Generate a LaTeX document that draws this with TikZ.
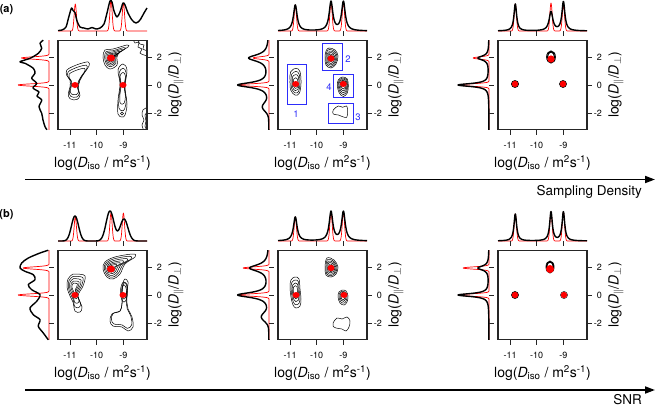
\documentclass[tikz,border=0pt]{standalone}
\usepackage{fontspec}
\setmainfont{TeX Gyre Heros}
\usetikzlibrary{arrows.meta}
\definecolor{bblue}{RGB}{45,45,250}
\tikzset{
 frm/.style={line width=1.3pt, draw=black!85},
 tck/.style={line width=0.8pt, black!85},
 tlab/.style={font=\fontsize{9}{10}\selectfont, inner sep=0pt},
 axlab/.style={font=\fontsize{14}{16}\selectfont, inner sep=0pt},
 cont/.style={line width=0.5pt},
 mblack/.style={line width=1.4pt, line join=round},
 mred/.style={red, line width=0.7pt, line join=round},
 rdot/.style={fill=red, draw=none},
 bbox/.style={draw=bblue, line width=0.8pt},
 blab/.style={text=bblue, font=\fontsize{9.5}{10}\selectfont, inner sep=0pt},
 bigarrow/.style={line width=1.8pt, -{Triangle[length=10pt,width=7pt]}},
 declare function={gs(\u,\c,\s)=exp(-((\u-\c)/\s)*((\u-\c)/\s));
                   lz(\u,\c,\w)=1/(1+((\u-\c)/\w)*((\u-\c)/\w));}
}
\newcommand\myframe[3]{%
\begin{scope}[shift={(#1,#2)}]
 \draw[frm] (-12,-44.8) rectangle (77,44.8);
 \foreach \tp/\lb [count=\i] in {0/-11,26.7/-10,53.4/-9}{
   \draw[tck] (\tp,44.8) -- (\tp,49.5);
   \draw[tck] (\tp,-54) -- (\tp,-49.5);
   \node[tlab] (xt#3\i) at (\tp,60.7) {\lb};}
 \foreach \tp/\lb [count=\i] in {-28/2,0/0,28/-2}{
   \draw[tck] (77,\tp) -- (81.5,\tp);
   \draw[tck] (-21,\tp) -- (-16.5,\tp);
   \node[tlab,anchor=east] (yt#3\i) at (92,\tp) {\lb};}
 \node[axlab] (xl#3) at (32.5,78) {log(\textit{D}\textsubscript{iso} / m\textsuperscript{2}s\textsuperscript{-1})};
 \node[axlab,rotate=90] (yl#3) at (106,0) {log(\textit{D}\textsubscript{$\parallel$}/\textit{D}\textsubscript{$\perp$})};
\end{scope}}
\newcommand\myblob[4]{%
\begin{scope}[shift={(#1,#2)}]
 \foreach \s in {#3}{\draw[cont,scale=\s] plot[smooth cycle,tension=0.6] coordinates {#4};}
\end{scope}}
\newcommand\redtop[3]{\draw[mred] plot[domain=-12:77,samples=300] (\x,{-54-#1*gs(\x,5.3,1.6)-#2*gs(\x,41,1.6)-#3*gs(\x,53.4,1.6)});}
\newcommand\redleft[2]{\draw[mred] plot[domain=-44.8:44.8,samples=300] ({-21-#1*gs(\x,-27,1.6)-#2*gs(\x,0,1.6)},\x);}
\begin{document}
\begin{tikzpicture}[x=1pt,y=-1pt]
\fill[white] (0,0) rectangle (656,407);
\useasboundingbox (0,0) rectangle (656,407);

% ================= panel a1
\begin{scope}[shift={(70,85)}]
 \redtop{27}{31}{28}
 \redleft{27.6}{31}
 \draw[mblack] plot[smooth] coordinates {(-12,-54.5) (-8,-55) (-4,-58) (-1.5,-67) (1.5,-77) (3,-74.5) (5,-72.5) (7,-64) (10,-58) (14,-57) (18,-56) (22,-57.5) (26,-56) (30,-57) (34,-61) (37,-72) (40,-84) (42,-83) (44,-74) (47,-68) (50,-73) (53,-82) (55,-80) (58,-72) (62,-65) (66,-62) (70,-65) (74,-72) (77,-77)};
 \draw[mblack] plot[smooth] coordinates {(-26.7,-44.8) (-30,-41.7) (-28.3,-36.7) (-31.7,-31.7) (-40,-26.7) (-50,-23.3) (-45,-21.7) (-36.7,-16.7) (-35,-11.7) (-38.3,-6.7) (-33.3,-1.7) (-37,3) (-31,7) (-33,11) (-28.3,15) (-31,21.7) (-28.3,28.3) (-27,35) (-25,41.7) (-23,44.8)};
 \myblob{5}{-2}{1,0.85,0.7}{(13.3,-21) (14,-17) (10,-11) (5,-2.7) (3.3,5.7) (5,12.3) (1.7,16.7) (-5,15.7) (-6.7,10.7) (-5,4) (-5,-2.7) (-8.3,-7.7) (-8.3,-12.7) (-3.3,-16) (5,-19.3)}
 \myblob{41}{-27}{1,0.8,0.65,0.5,0.38,0.26}{(-6,-8) (2,-9) (16,-13) (17,-11) (9,-6) (6,-1) (6,7) (-1,11) (-6,7) (-8,-1)}
 \myblob{53}{0}{1,0.8,0.6}{(0,-21) (4,-15) (2,2) (4,19) (2,30) (-1,32) (-5,29) (-5,15) (-3,-1) (-5,-15)}
 \draw[cont] (52,28.5) circle (1.5);
 \begin{scope}
  \clip (-12,-44.8) rectangle (77,44.8);
  \draw[cont] plot[smooth] coordinates {(63,-46) (65,-42) (69,-43) (68,-38) (72,-36) (70,-32) (74,-30) (78,-29)};
  \draw[cont] plot[smooth] coordinates {(67,-46) (70,-41) (74,-40) (73,-36) (78,-34)};
  \draw[cont] plot[smooth] coordinates {(78,22) (73,25) (72,30) (74,35) (72,40) (74,46)};
  \draw[cont] plot[smooth] coordinates {(78,26) (75,30) (76,36) (75,41) (77,46)};
 \end{scope}
 \fill[rdot] (5,0) ellipse (3.5 and 3);
 \fill[rdot] (41,-27) ellipse (4 and 3.5);
 \fill[rdot] (53,0) ellipse (3.5 and 3);
\end{scope}
\myframe{70}{85}{a1}

% ================= panel a2
\begin{scope}[shift={(290,85)}]
 \redtop{26}{29}{29}
 \redleft{16}{31}
 \draw[mblack] plot[domain=-12:77,samples=300] (\x,{-54-26*lz(\x,5.3,2.2)-29*lz(\x,41,2.2)-29*lz(\x,53.4,2.2)});
 \draw[mblack] plot[domain=-44.8:44.8,samples=300] ({-21-20*lz(\x,-27,4)-31*lz(\x,0,3)-6*gs(\x,22,6)},\x);
 \myblob{5.7}{-1}{1,0.8,0.6,0.4}{(0.3,-15.7) (4.3,-12.3) (5.3,-0.7) (3.6,9.3) (-0.7,11) (-5,6) (-5.7,-4) (-5,-12.3)}
 \myblob{41}{-27}{1,0.85,0.7,0.55,0.4,0.25}{(-2,-10) (4,-8) (7,-2) (5,6) (0,10) (-5,7) (-6,0) (-5,-7)}
 \myblob{53.3}{-1}{1,0.85,0.7,0.55,0.4}{(-1,-7) (4,-5) (5,2) (4,9) (0,12.5) (-4,9) (-6,2) (-5,-4)}
 \myblob{50}{27}{1}{(-6.7,-2) (-1.7,-6) (2.7,-4.7) (6.7,-6) (7.7,-0.3) (6.7,5.3) (2.7,4.7) (-1.7,3) (-6.7,2)}
 \fill[rdot] (5.7,-1) ellipse (3.5 and 3);
 \fill[rdot] (41,-26.5) ellipse (3.5 and 3.2);
 \fill[rdot] (53.3,-1) ellipse (3.5 and 3);
 \draw[bbox] (-3,-21) rectangle (16,19);
 \draw[bbox] (32,-42) rectangle (52,-15);
 \draw[bbox] (43,-11) rectangle (63,12);
 \draw[bbox] (38,18) rectangle (63,38);
 \node[blab] (n1) at (6,29) {1};
 \node[blab] (n2) at (58,-26) {2};
 \node[blab] (n4) at (39,2) {4};
 \node[blab] (n3) at (68,32) {3};
\end{scope}
\myframe{290}{85}{a2}

% ================= panel a3
\begin{scope}[shift={(510,85)}]
 \redtop{27}{28}{26}
 \redleft{16}{31}
 \draw[mblack] plot[domain=-12:77,samples=300] (\x,{-54-27*lz(\x,5.3,1.6)-19*lz(\x,41,2.2)-29*lz(\x,53.4,1.8)});
 \draw[mblack] plot[domain=-44.8:44.8,samples=300] ({-21-11*lz(\x,-27,2.5)-31*lz(\x,0,1.8)},\x);
 \draw[cont] (5,-1) ellipse (3.7 and 3.6) (5,-1) ellipse (3.2 and 3.1);
 \draw[cont] (41,-28) ellipse (4.6 and 6.3) (41,-28) ellipse (3.9 and 5.5) (41,-28) ellipse (3.2 and 4.7);
 \draw[cont] (53,-1) ellipse (3.6 and 3.6) (53,-1) ellipse (3.1 and 3.1);
 \fill[rdot] (5,-1) circle (3.2);
 \fill[rdot] (41,-26) circle (3.6);
 \fill[rdot] (53,-1) circle (3.2);
\end{scope}
\myframe{510}{85}{a3}

% ================= panel b1
\begin{scope}[shift={(70,295)}]
 \redtop{24}{28}{28}
 \redleft{26}{31}
 \draw[mblack] plot[domain=-12:77,samples=300] (\x,{-54-25*gs(\x,5,5)-30*gs(\x,40,5.5)-22*gs(\x,54,5.5)});
 \draw[mblack] plot[smooth] coordinates {(-21.7,-44.8) (-30,-42) (-41.7,-37) (-48.3,-32) (-50,-27) (-45,-23.7) (-36.7,-20.3) (-35,-15.3) (-41.7,-10.3) (-38.3,-5.3) (-30,-0.3) (-33.3,6.3) (-40,13) (-36.7,19.7) (-30,24.7) (-31.7,31.3) (-26.7,38) (-21.7,44.8)};
 \myblob{4}{-8}{1,0.82,0.64,0.46,0.3}{(3,-13) (11,-11) (9,-1) (4,9) (8,20) (6,25) (1,24) (-1,15) (-4,9) (-7,0) (-6,-8) (-1,-13)}
 \myblob{41}{-27}{1,0.84,0.68,0.52,0.38,0.25}{(-6,-6) (4,-11) (22,-14) (24,-11) (14,-4) (9,6) (2,11) (-4,9) (-8,1)}
 \myblob{52}{14}{1,0.88}{(3,-30) (6,-27) (5,-17) (5,-6) (6,0) (10,8) (11,18) (6,22) (0,18) (-9,17) (-12,12) (-10,5) (-2,2) (0,-6) (0,-17) (1,-26)}
 \draw[cont] (54,-3) ellipse (2.5 and 7) (54,-3) ellipse (3.5 and 10);
 \fill[rdot] (5,0) ellipse (3.5 and 3);
 \fill[rdot] (41,-26) ellipse (4 and 3.5);
 \fill[rdot] (53,0) ellipse (3.5 and 3);
\end{scope}
\myframe{70}{295}{b1}

% ================= panel b2
\begin{scope}[shift={(290,295)}]
 \redtop{24}{29}{29}
 \redleft{26}{31}
 \draw[mblack] plot[domain=-12:77,samples=300] (\x,{-54-24*lz(\x,5.3,2.2)-29*lz(\x,41,2.2)-29*lz(\x,53.4,2.2)});
 \draw[mblack] plot[domain=-44.8:44.8,samples=300] ({-21-19*lz(\x,-27,4)-31*lz(\x,0,3)-7*gs(\x,22,6)},\x);
 \myblob{5.5}{-3}{1,0.8,0.6,0.42}{(-0.5,-15) (3.5,-13) (4.5,-3) (5.5,7) (4.5,14) (0.5,16) (-2.5,13) (-4.5,5) (-5.5,-5) (-4.5,-12)}
 \myblob{41}{-27}{1,0.85,0.7,0.55,0.4,0.25}{(-4,-10) (3,-8) (7,-1) (5,6) (0,9) (-5,7) (-6,-1)}
 \myblob{53}{1}{1,0.8,0.6,0.42}{(-1,-6) (3,-5) (5,0) (4,6) (1,9) (-3,7) (-5,1) (-4,-4)}
 \myblob{51}{29}{1}{(-8,-1) (-4,-6) (1,-5) (6,-7) (9,-3) (8,3) (5,7) (1,5) (-5,4) (-8,2)}
 \fill[rdot] (6,0) ellipse (3.5 and 3);
 \fill[rdot] (41,-27) ellipse (3.5 and 3.2);
 \fill[rdot] (54,0) ellipse (3.5 and 3);
\end{scope}
\myframe{290}{295}{b2}

% ================= panel b3
\begin{scope}[shift={(510,295)}]
 \redtop{27}{29}{29}
 \redleft{26}{31}
 \draw[mblack] plot[domain=-12:77,samples=300] (\x,{-54-27*lz(\x,5.3,1.6)-29*lz(\x,41,1.6)-29*lz(\x,53.4,1.6)});
 \draw[mblack] plot[domain=-44.8:44.8,samples=300] ({-21-11*lz(\x,-27,2.5)-31*lz(\x,0,1.8)},\x);
 \draw[cont] (5,0) ellipse (3.6 and 3.6) (5,0) ellipse (3.1 and 3.1);
 \draw[cont] (40,-28) ellipse (4.2 and 6.2) (40,-28) ellipse (3.6 and 5.5) (40,-28) ellipse (3 and 4.7);
 \draw[cont] (54,0) ellipse (3.5 and 3.5);
 \fill[rdot] (5,0) circle (3.2);
 \fill[rdot] (40,-26) circle (4);
 \fill[rdot] (54,0) circle (3.2);
\end{scope}
\myframe{510}{295}{b3}

% ================= labels and arrows
\node[font=\bfseries\fontsize{11}{12}\selectfont, inner sep=0pt] (la) at (6.5,10) {(a)};
\node[font=\bfseries\fontsize{11}{12}\selectfont, inner sep=0pt] (lb) at (6.5,215) {(b)};
\coordinate (arA0) at (25,179.5);
\coordinate (arA1) at (655,179.5);
\coordinate (arB0) at (25,390);
\coordinate (arB1) at (655,390);
\draw[bigarrow] (arA0) -- (arA1);
\draw[bigarrow] (arB0) -- (arB1);
\node[font=\fontsize{13.5}{15}\selectfont, inner sep=0pt, anchor=east] (sd) at (642,192) {Sampling Density};
\node[font=\fontsize{13.5}{15}\selectfont, inner sep=0pt, anchor=east] (snr) at (642,399.5) {SNR};
\end{tikzpicture}
\end{document}
